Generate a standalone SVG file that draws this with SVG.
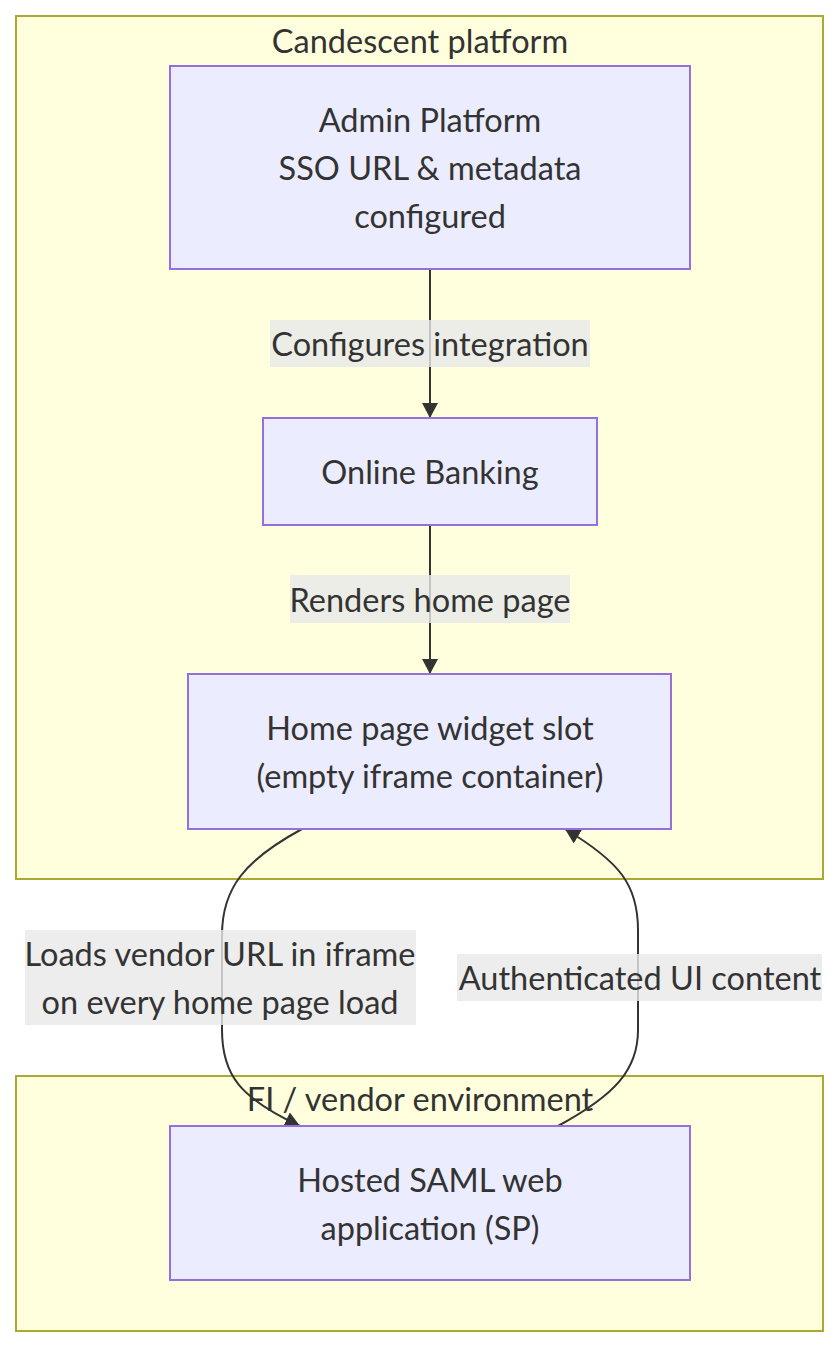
<svg xmlns="http://www.w3.org/2000/svg" width="840" height="1348" viewBox="0 0 840 1348">
<style>
.cluster{fill:#ffffde;stroke:#aaaa33;stroke-width:2}
.node{fill:#ECECFF;stroke:#9370DB;stroke-width:2}
text{font-family:Lato,"Liberation Sans",sans-serif;font-size:32.5px;fill:#333333;text-anchor:middle;dominant-baseline:central}
.edge{fill:none;stroke:#333333;stroke-width:2}
.lbl{fill:rgba(232,232,232,0.8)}
</style>
<defs>
<marker id="arrow" markerUnits="userSpaceOnUse" markerWidth="16" markerHeight="16" refX="15" refY="8" orient="auto">
<path d="M0,0 L15,8 L0,16 z" fill="#333333"/>
</marker>
</defs>
<rect width="840" height="1348" fill="#ffffff"/>
<g id="cluster-candescent">
<rect class="cluster" x="16" y="16" width="807" height="863"/>
<text x="420" y="40">Candescent platform</text>
</g>
<g id="cluster-fi">
<rect class="cluster" x="16" y="1076" width="807" height="255"/>
<text x="420" y="1098">FI / vendor environment</text>
</g>
<g id="connectors">
<path class="edge" d="M430,269 L430,418" marker-end="url(#arrow)"/>
<path class="edge" d="M430,525 L430,674" marker-end="url(#arrow)"/>
<path class="edge" d="M302,829 C245,860 222,888 222,935 L222,1030 C222,1075 240,1098 300,1126" marker-end="url(#arrow)"/>
<path class="edge" d="M558,1126 C615,1095 638,1070 638,1030 L638,930 C638,885 620,862 565,829" marker-end="url(#arrow)"/>
<rect class="lbl" x="270" y="320" width="320" height="47"/>
<text x="430" y="343">Configures integration</text>
<rect class="lbl" x="290" y="575" width="280" height="48"/>
<text x="430" y="599">Renders home page</text>
<rect class="lbl" x="25" y="930" width="391" height="95"/>
<text x="220" y="953">Loads vendor URL in iframe</text>
<text x="220" y="1001">on every home page load</text>
<rect class="lbl" x="457" y="954" width="365" height="47"/>
<text x="640" y="977">Authenticated UI content</text>
</g>
<g id="node-admin">
<rect class="node" x="170" y="66" width="520" height="203"/>
<text x="430" y="119">Admin Platform</text>
<text x="430" y="167">SSO URL &amp; metadata</text>
<text x="430" y="215">configured</text>
</g>
<g id="node-online">
<rect class="node" x="263" y="418" width="334" height="107"/>
<text x="430" y="471">Online Banking</text>
</g>
<g id="node-widget">
<rect class="node" x="188" y="674" width="483" height="155"/>
<text x="430" y="727">Home page widget slot</text>
<text x="430" y="775">(empty iframe container)</text>
</g>
<g id="node-saml">
<rect class="node" x="170" y="1126" width="520" height="154"/>
<text x="430" y="1179">Hosted SAML web</text>
<text x="430" y="1227">application (SP)</text>
</g>
</svg>
